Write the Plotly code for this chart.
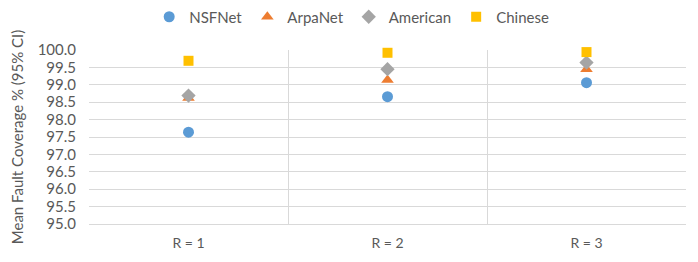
import plotly.graph_objects as go

categories = ["R = 1", "R = 2", "R = 3"]
nsfnet = [97.64, 98.66, 99.06]
arpanet = [98.62, 99.14, 99.45]
american = [98.69, 99.45, 99.64]
chinese = [99.69, 99.92, 99.94]
y_ticks = [95.0 + 0.5 * i for i in range(11)]

series = [
    ("NSFNet", nsfnet, "#5B9BD5", "circle", 11),
    ("ArpaNet", arpanet, "#ED7D31", "triangle-up", 11),
    ("American", american, "#A5A5A5", "diamond", 11),
    ("Chinese", chinese, "#FFC000", "square", 10),
]

fig = go.Figure()
xpos = list(range(len(categories)))
for name, vals, color, sym, size in series:
    fig.add_trace(go.Scatter(
        x=xpos, y=vals, mode="markers", name=name,
        marker=dict(color=color, symbol=sym, size=size, line=dict(width=0)),
        cliponaxis=False,
    ))

fam = "Lato, Open Sans, Liberation Sans, sans-serif"
col = "#595959"
# page body has an 8px margin, so the figure is 690x254 placed at (8, 8)
fig.update_layout(
    width=690, height=254,
    margin=dict(l=81, r=12, t=42, b=38, autoexpand=False),
    paper_bgcolor="white", plot_bgcolor="white",
    font=dict(family=fam, size=14, color=col),
    showlegend=True,
    legend=dict(orientation="h", x=0.44, xanchor="center", yref="container", y=1 - 9 / 254,
                yanchor="middle", font=dict(size=15, color=col), itemwidth=30, tracegroupgap=0),
    xaxis=dict(
        range=[-0.5, 2.5], tickmode="array", tickvals=xpos, ticktext=categories,
        showgrid=False, zeroline=False, showline=True, linecolor="#D9D9D9", linewidth=1,
        ticks="", tickfont=dict(size=14, color=col), ticklabelstandoff=6, automargin=False,
        minor=dict(tickmode="array", tickvals=[-0.5, 0.5, 1.5, 2.5], showgrid=True,
                   gridcolor="#D9D9D9", gridwidth=1, ticks=""),
    ),
    yaxis=dict(
        range=[95, 100], tickmode="array", tickvals=y_ticks,
        ticktext=[f"{v:.1f}" for v in y_ticks],
        showgrid=True, gridcolor="#D9D9D9", gridwidth=1, zeroline=False,
        showline=False, ticks="", tickfont=dict(size=15, color=col),
        ticklabelstandoff=12, automargin=False,
        title=dict(text="Mean Fault Coverage % (95% CI)", font=dict(size=15, color=col), standoff=14),
    ),
)
fig.write_html("out.html")
